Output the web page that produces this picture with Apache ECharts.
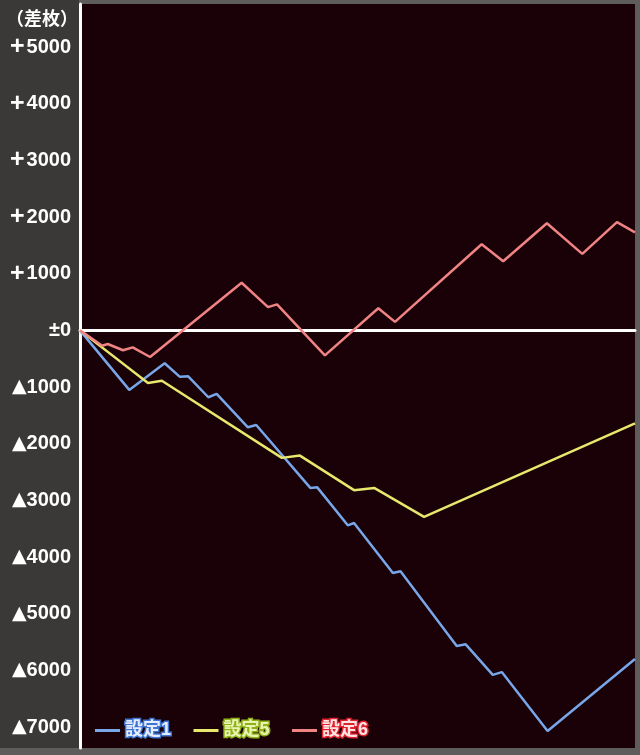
<!DOCTYPE html>
<html>
<head>
<meta charset="utf-8">
<script src="https://cdn.jsdelivr.net/npm/echarts@6/dist/echarts.min.js"></script>
<style>
html,body{margin:0;padding:0;background:#5f5d5b;}
#chart{width:640px;height:755px;}
</style>
</head>
<body>
<div id="chart"></div>
<script>
// x: game count (unlabelled), y: coin difference (差枚)
const seriesNames = ['設定1', '設定5', '設定6'];
const setting1 = [[0,0],[710,-1050],[1220,-580],[1440,-820],[1560,-810],[1850,-1180],[1970,-1120],[2420,-1710],[2540,-1670],[3320,-2780],[3420,-2770],[3860,-3440],[3950,-3400],[4510,-4280],[4620,-4250],[5430,-5570],[5560,-5540],[5950,-6080],[6080,-6030],[6740,-7070],[8000,-5800]];
const setting5 = [[0,0],[980,-930],[1180,-890],[2910,-2250],[3170,-2210],[3950,-2820],[4240,-2780],[4960,-3290],[8000,-1640]];
const setting6 = [[0,0],[320,-270],[400,-240],[620,-350],[760,-300],[1010,-470],[2330,840],[2710,410],[2840,460],[3530,-440],[4300,390],[4540,150],[5790,1520],[6100,1220],[6730,1890],[7240,1350],[7740,1910],[8000,1730]];
const yTickValues = [5000,4000,3000,2000,1000,0,-1000,-2000,-3000,-4000,-5000,-6000,-7000];
const xMax = 8000;
const yMin = -7370, yMax = 5760;

const lineColors = ['#78a6e8', '#e8e86c', '#f08484'];
const legendFill = ['#e4ecff', '#e8f4b0', '#ffe4e4'];
const legendStroke = ['#3f74d0', '#8fb018', '#e0222e'];
const fontFam = "'Liberation Sans','Noto Sans CJK JP',sans-serif";

const chart = echarts.init(document.getElementById('chart'), null, {renderer: 'canvas'});
const datasets = [setting1, setting5, setting6];

chart.setOption({
  animation: false,
  backgroundColor: '#5f5d5b',
  graphic: [{
    type: 'rect', left: 0, top: 0, z: -10,
    shape: {width: 79, height: 748},
    style: {fill: '#3b3937'}
  }],
  title: {
    text: '（差枚）', left: 6, top: 11, padding: 0,
    textStyle: {color: '#fff', fontSize: 18, fontWeight: 'bold', fontFamily: fontFam}
  },
  grid: {
    left: 80, right: 5, top: 4, bottom: 7,
    show: true, backgroundColor: '#1a0007', borderWidth: 0,
    containLabel: false
  },
  legend: {
    left: 95, top: 720, padding: 0,
    icon: 'rect', itemWidth: 25, itemHeight: 3, itemGap: 21,
    textStyle: {fontSize: 18, fontWeight: 'bold', fontFamily: fontFam},
    data: seriesNames.map((n, i) => ({
      name: n,
      textStyle: {color: legendFill[i], textBorderColor: legendStroke[i], textBorderWidth: 3}
    }))
  },
  xAxis: {
    type: 'value', min: 0, max: xMax,
    axisLine: {show: true, onZero: true, lineStyle: {color: '#ffffff', width: 3}},
    axisTick: {show: false}, axisLabel: {show: false}, splitLine: {show: false}
  },
  yAxis: {
    type: 'value', min: yMin, max: yMax,
    axisLine: {show: true, lineStyle: {color: '#ffffff', width: 3}},
    axisTick: {show: false},
    splitLine: {show: false},
    axisLabel: {
      customValues: yTickValues,
      color: '#ffffff', fontSize: 20, fontWeight: 'bold', fontFamily: fontFam,
      margin: 9,
      formatter: v => v > 0 ? '{p|+}{n|' + v + '}' : (v < 0 ? '{t|▲}{n|' + (-v) + '}' : '{n|±0}'),
      rich: {
        p: {fontSize: 25, fontWeight: 'bold', fontFamily: "'Liberation Sans',sans-serif", color: '#fff', padding: [0, 2, 0, 0]},
        t: {fontSize: 19, fontFamily: "'DejaVu Sans',sans-serif", color: '#fff'},
        n: {fontSize: 20, fontWeight: 'bold', fontFamily: fontFam, color: '#fff'}
      }
    }
  },
  series: datasets.map((d, i) => ({
    name: seriesNames[i], type: 'line', data: d,
    showSymbol: false, symbol: 'none', clip: false,
    lineStyle: {color: lineColors[i], width: 2.5},
    itemStyle: {color: lineColors[i]},
    z: 2 + i
  }))
});
</script>
</body>
</html>
